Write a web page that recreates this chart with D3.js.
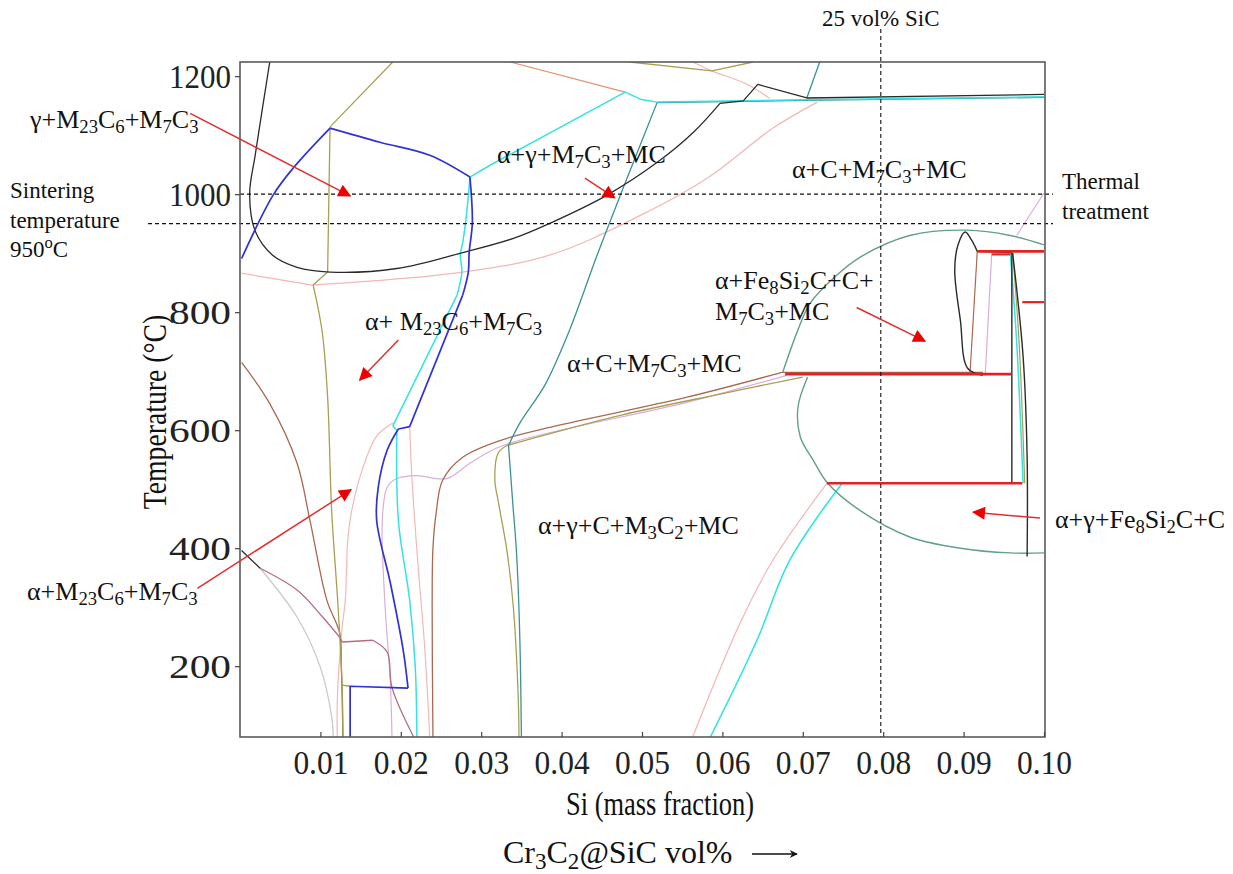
<!DOCTYPE html>
<html>
<head>
<meta charset="utf-8">
<script src="https://cdn.jsdelivr.net/npm/d3@7"></script>
<style>
  html, body { margin: 0; padding: 0; background: #fff; }
  svg { display: block; }
</style>
</head>
<body>
<svg id="chart" width="1233" height="874"></svg>
<script>
// ---------- axis ticks ----------
const xTicks = [0.01, 0.02, 0.03, 0.04, 0.05, 0.06, 0.07, 0.08, 0.09, 0.10];
const yTicks = [200, 400, 600, 800, 1000, 1200];

// ---------- phase boundaries, [Si mass fraction, T in °C] ----------
const blackLoop = [[.0037,1224],[.0019,1067],[.0012,1000],[.0019,937],[.0041,896],[.0071,876],[.0112,868],[.0195,874],[.0277,901],[.0340,925],[.0386,951],[.0456,998],[.0519,1054],[.0564,1105],[.0597,1154]];
const blackCap = [[.0597,1154],[.0626,1158],[.0644,1186],[.0705,1163],[.1,1169]];
const blueLine = [[.0002,891],[.0041,998],[.0066,1044],[.0112,1112],[.0174,1088],[.0236,1066],[.0286,1029],[.0289,952],[.0285,901],[.0284,868],[.0277,829],[.0211,606],[.0197,602],[.0183,566],[.0172,504],[.0170,447],[.0187,341],[.0203,227],[.0209,163]];
const blueFoot = [[.0209,163],[.0137,166],[.0137,80]];
const cyanLeft = [[.0286,1029],[.0282,969],[.0277,918],[.0274,897],[.0276,868],[.0270,829],[.0190,607],[.0195,600],[.0197,447],[.0211,312],[.0218,198],[.0220,80]];
const cyanTop = [[.0286,1029],[.0311,1049],[.0479,1173],[.0498,1161],[.0519,1156],[.0700,1160],[.1,1165]];
const cyanRight = [[.0958,900],[.0966,750],[.0974,510]];
const cyanLow = [[.0585,80],[.0643,244],[.0684,380],[.0749,510]];
const tealLine = [[.0519,1156],[.0473,998],[.0444,896],[.0410,770],[.0379,676],[.0348,612],[.0334,574],[.0339,481],[.0344,391],[.0348,250],[.0350,80]];
const tealTop = [[.0519,1155],[.0700,1159],[.1,1164]];
const tealUpper = [[.0721,1224],[.0705,1163]];
const oliveLeft = [[.0190,1224],[.0112,1114],[.0109,868],[.0091,846],[.0102,769],[.0109,656],[.0114,464],[.0122,300],[.0127,168],[.0128,80]];
const oliveFoot = [[.0127,168],[.0137,166]];
const oliveMid = [[.0700,690],[.0600,662],[.0473,625],[.0332,574],[.0321,561],[.0317,515],[.0321,481],[.0332,396],[.0340,300],[.0346,150],[.0347,80]];
const oliveTop = [[.0485,1224],[.0587,1209],[.0638,1224]];
const oliveRight = [[.0961,900],[.0969,750],[.0976,510]];
const brownLeft = [[.0002,715],[.0037,645],[.0071,544],[.0087,447],[.0108,312],[.0124,256],[.0126,200],[.0128,80]];
const brownMid = [[.0240,80],[.0239,300],[.0240,401],[.0244,460],[.0252,515],[.0277,554],[.0327,584],[.0389,606],[.0556,656],[.0674,698],[.0924,698]];
const brownTear = [[.0917,903],[.0908,697]];
const lavenderMid = [[.0189,80],[.0187,172],[.0180,312],[.0177,447],[.0183,503],[.0195,518],[.0220,523],[.0257,518],[.0286,544],[.0327,574],[.0556,647],[.0680,693]];
const lavenderTear = [[.0935,900],[.0927,696]];
const pinkLeftA = [[.0190,612],[.0170,590],[.0153,537],[.0139,464],[.0134,413],[.0131,312],[.0127,266],[.0121,142],[.0121,80]];
const pinkLeftB = [[.0211,606],[.0214,515],[.0221,379],[.0230,227],[.0236,80]];
const pinkBig = [[.0002,866],[.0090,846],[.0277,868],[.0386,897],[.0498,964],[.0581,1027],[.0663,1112],[.0718,1156]];
const pinkTop = [[.0563,1224],[.0587,1209],[.0631,1186],[.0659,1162]];
const pinkLow = [[.0563,80],[.0622,273],[.0663,380],[.0730,510]];
const pinkCorner = [[.0966,930],[.1,1002]];
const salmonTop = [[.0336,1224],[.0479,1173]];
const grayLine = [[.0025,366],[.0071,283],[.0100,198],[.0114,114],[.0116,80]];
const blackShort = [[.0002,396],[.0025,366]];
const rosyLine = [[.0025,366],[.0071,329],[.0103,283],[.0124,249]];
const rosyStep = [[.0124,249],[.0127,241],[.0165,244],[.0183,224],[.0189,164],[.0216,80]];
const greenUpper = [[.0675,698],[.0694,770],[.0709,815],[.0740,860],[.0771,893],[.0833,930],[.0904,939],[.0958,930],[.1,914]];
const greenLower = [[.0706,690],[.0694,639],[.0697,588],[.0713,549],[.0731,510],[.0771,464],[.0833,419],[.0896,400],[.0958,392],[.1,392]];
const redA = [[.0678,695],[.0960,695]];
const redB = [[.0730,510],[.0973,510]];
const redC = [[.0917,903],[.1,903]];
const redD = [[.0935,898],[.0958,898]];
const redE = [[.0973,817],[.1,817]];
const blackBar = [[.0960,901],[.0960,510]];
const blackRight = [[.0961,900],[.0974,725],[.0979,556],[.0979,386]];
const blackTear = [[.0924,693],[.0905,705],[.0896,786],[.0889,871],[.0893,914],[.0902,936],[.0910,922],[.0917,903],[.0960,901]];

// reference lines
const sinterT = 950, thermalT = 1000, sicSi = 0.0797;

// ---------- styling of each boundary (k = indices of sharp corners) ----------
const C = {
  black: "#2b2b2b", blue: "#3131d6", cyan: "#33e3e3", teal: "#3b9292", olive: "#a89f52",
  brown: "#a9694f", lavender: "#d9aedb", pink: "#f2b8b8", salmon: "#e6926f", gray: "#cacaca",
  rosy: "#b46d7c", green: "#63a088", red: "#e52222"
};
const curves = [
  {d: pinkBig, c: C.pink, w: 1.3, s: 1, k: [1]},
  {d: pinkTop, c: C.pink, w: 1.2, s: 1},
  {d: pinkLow, c: C.pink, w: 1.2, s: 1},
  {d: pinkCorner, c: C.lavender, w: 1.2, s: 0},
  {d: pinkLeftA, c: C.pink, w: 1.2, s: 1},
  {d: pinkLeftB, c: C.pink, w: 1.2, s: 1},
  {d: lavenderMid, c: C.lavender, w: 1.2, s: 1},
  {d: lavenderTear, c: C.lavender, w: 1.2, s: 0},
  {d: salmonTop, c: C.salmon, w: 1.2, s: 0},
  {d: grayLine, c: C.gray, w: 1.3, s: 1},
  {d: rosyLine, c: C.rosy, w: 1.3, s: 1},
  {d: rosyStep, c: C.rosy, w: 1.3, s: 1, k: [1, 2]},
  {d: brownLeft, c: C.brown, w: 1.3, s: 1},
  {d: brownMid, c: C.brown, w: 1.3, s: 1, k: [9]},
  {d: brownTear, c: C.brown, w: 1.2, s: 0},
  {d: oliveLeft, c: C.olive, w: 1.3, s: 1, k: [1, 2, 3]},
  {d: oliveFoot, c: C.olive, w: 1.3, s: 0},
  {d: oliveMid, c: C.olive, w: 1.3, s: 1, k: [3]},
  {d: oliveTop, c: C.olive, w: 1.3, s: 0},
  {d: oliveRight, c: C.olive, w: 1.2, s: 1},
  {d: tealTop, c: C.teal, w: 1.3, s: 0},
  {d: tealLine, c: C.teal, w: 1.3, s: 1, k: [6]},
  {d: tealUpper, c: C.teal, w: 1.3, s: 0},
  {d: cyanTop, c: C.cyan, w: 1.5, s: 0},
  {d: cyanLeft, c: C.cyan, w: 1.5, s: 1, k: [5, 6, 7]},
  {d: cyanRight, c: C.cyan, w: 1.5, s: 1},
  {d: cyanLow, c: C.cyan, w: 1.6, s: 1},
  {d: greenUpper, c: C.green, w: 1.4, s: 1},
  {d: greenLower, c: C.green, w: 1.4, s: 1},
  {d: blackLoop, c: C.black, w: 1.3, s: 1},
  {d: blackCap, c: C.black, w: 1.3, s: 0},
  {d: blackShort, c: C.black, w: 1.3, s: 0},
  {d: blackBar, c: C.black, w: 1.4, s: 0},
  {d: blackRight, c: C.black, w: 1.4, s: 1},
  {d: blackTear, c: C.black, w: 1.4, s: 1, k: [7]},
  {d: blueLine, c: C.blue, w: 1.7, s: 1, k: [3, 6, 10, 11, 12]},
  {d: blueFoot, c: C.blue, w: 1.7, s: 0},
  {d: redA, c: C.red, w: 2.6, s: 0},
  {d: redB, c: C.red, w: 2.6, s: 0},
  {d: redC, c: C.red, w: 2.6, s: 0},
  {d: redD, c: C.red, w: 2.2, s: 0},
  {d: redE, c: C.red, w: 2.2, s: 0}
];

// ---------- region labels and their pointers ----------
const phaseLabels = [
  {t: "γ+M_{23}C_{6}+M_{7}C_{3}", x: 30, y: 128},
  {t: "α+γ+M_{7}C_{3}+MC", x: 497, y: 163},
  {t: "α+C+M_{7}C_{3}+MC", x: 792, y: 178},
  {t: "α+ M_{23}C_{6}+M_{7}C_{3}", x: 365, y: 330},
  {t: "α+Fe_{8}Si_{2}C+C+", x: 715, y: 289},
  {t: "M_{7}C_{3}+MC", x: 715, y: 320},
  {t: "α+C+M_{7}C_{3}+MC", x: 567, y: 372},
  {t: "α+γ+C+M_{3}C_{2}+MC", x: 538, y: 534},
  {t: "α+γ+Fe_{8}Si_{2}C+C", x: 1055, y: 528},
  {t: "α+M_{23}C_{6}+M_{7}C_{3}", x: 27, y: 600}
];
// pointers: [from Si, from T, to Si, to T]
const pointers = [
  [-0.0062, 1137, 0.0137, 997],
  [0.0429, 1027, 0.0466, 994],
  [0.0197, 753, 0.0149, 685],
  [-0.0053, 332, 0.0138, 499],
  [0.0767, 808, 0.0852, 751],
  [0.0995, 451, 0.0912, 461]
];

// ---------- drawing ----------
const svg = d3.select("#chart");
const x = d3.scaleLinear().domain([0, 0.1]).range([240, 1044]);
const y = d3.scaleLinear().domain([80, 1224]).range([737, 62]);
const serif = "'Liberation Serif', 'Times New Roman', serif";

const defs = svg.append("defs");
defs.append("clipPath").attr("id", "plotClip")
  .append("rect").attr("x", 240).attr("y", 62).attr("width", 805).attr("height", 675);
defs.append("marker").attr("id", "redHead").attr("viewBox", "0 0 10 10")
  .attr("refX", 9).attr("refY", 5).attr("markerWidth", 15).attr("markerHeight", 13)
  .attr("markerUnits", "userSpaceOnUse").attr("orient", "auto")
  .append("path").attr("d", "M0,0L10,5L0,10Z").attr("fill", "#ee0000");
defs.append("marker").attr("id", "blackHead").attr("viewBox", "0 0 10 10")
  .attr("refX", 9).attr("refY", 5).attr("markerWidth", 10).attr("markerHeight", 8)
  .attr("markerUnits", "userSpaceOnUse").attr("orient", "auto")
  .append("path").attr("d", "M0,0L10,5L0,10L3,5Z").attr("fill", "#111");

const smooth = d3.line().x(d => x(d[0])).y(d => y(d[1])).curve(d3.curveCatmullRom.alpha(0.5));
const straight = d3.line().x(d => x(d[0])).y(d => y(d[1]));

// split a boundary at its corner points and join the smooth pieces
function boundaryPath(c) {
  const gen = c.s ? smooth : straight;
  const cuts = [0, ...(c.k || []), c.d.length - 1];
  let out = "";
  for (let i = 0; i < cuts.length - 1; i++) {
    out += gen(c.d.slice(cuts[i], cuts[i + 1] + 1));
  }
  return out;
}

const plot = svg.append("g").attr("clip-path", "url(#plotClip)");
plot.selectAll("path.boundary").data(curves).join("path")
  .attr("class", "boundary")
  .attr("d", boundaryPath)
  .attr("fill", "none")
  .attr("stroke", c => c.c)
  .attr("stroke-width", c => c.w)
  .attr("stroke-linejoin", "round");

// dashed reference lines
const dash = svg.append("g").attr("stroke", "#111").attr("stroke-width", 1.1)
  .attr("stroke-dasharray", "4,3").attr("fill", "none");
dash.append("line").attr("x1", x(0)).attr("x2", 1053).attr("y1", y(thermalT)).attr("y2", y(thermalT));
dash.append("line").attr("x1", 148).attr("x2", 1053).attr("y1", y(sinterT)).attr("y2", y(sinterT));
dash.append("line").attr("x1", x(sicSi)).attr("x2", x(sicSi)).attr("y1", 29).attr("y2", 737);

// frame
svg.append("rect").attr("x", 240).attr("y", 62).attr("width", 805).attr("height", 675)
  .attr("fill", "none").attr("stroke", "#5a5a5a").attr("stroke-width", 1.6);

// axes
const yAxis = svg.append("g").attr("transform", "translate(240,0)")
  .call(d3.axisLeft(y).tickValues(yTicks).tickSize(5).tickPadding(4).tickFormat(d3.format("d")));
const xAxis = svg.append("g").attr("transform", "translate(0,737)")
  .call(d3.axisBottom(x).tickValues(xTicks).tickSize(-5).tickPadding(14).tickFormat(d3.format(".2f")));
[yAxis, xAxis].forEach(a => {
  a.select(".domain").remove();
  a.selectAll(".tick line").attr("stroke", "#444").attr("stroke-width", 1.2);
  a.selectAll("text").attr("font-family", serif).attr("font-size", 33).attr("fill", "#222");
});
xAxis.selectAll(".tick text").attr("textLength", 55).attr("lengthAdjust", "spacingAndGlyphs");
yAxis.selectAll(".tick text").attr("dy", "0.34em").attr("textLength", 62).attr("lengthAdjust", "spacingAndGlyphs");

// rich text with sub/superscripts written as _{..} and ^{..}
function rich(sel, str, size) {
  const parts = str.split(/(_\{[^}]*\}|\^\{[^}]*\})/).filter(s => s.length);
  let shift = 0;
  parts.forEach(p => {
    let t = p, target = 0, fs = size;
    if (p.startsWith("_{")) { t = p.slice(2, -1); target = size * 0.2; fs = size * 0.72; }
    else if (p.startsWith("^{")) { t = p.slice(2, -1); target = -size * 0.38; fs = size * 0.72; }
    sel.append("tspan").attr("dy", target - shift).attr("font-size", fs).text(t);
    shift = target;
  });
}

const ann = svg.append("g").attr("font-family", serif).attr("fill", "#111");
phaseLabels.forEach(l => {
  const t = ann.append("text").attr("x", l.x).attr("y", l.y).attr("font-size", 26);
  rich(t, l.t, 26);
});

// side notes
ann.append("text").attr("x", 10).attr("y", 198).attr("font-size", 23).text("Sintering");
ann.append("text").attr("x", 10).attr("y", 228).attr("font-size", 23).text("temperature");
rich(ann.append("text").attr("x", 10).attr("y", 257).attr("font-size", 23), "950^{o}C", 23);
ann.append("text").attr("x", 1062).attr("y", 189).attr("font-size", 23).text("Thermal");
ann.append("text").attr("x", 1062).attr("y", 219).attr("font-size", 23).text("treatment");
ann.append("text").attr("x", x(sicSi)).attr("y", 26).attr("font-size", 23)
  .attr("text-anchor", "middle").text("25 vol% SiC");

// axis titles
ann.append("text").attr("transform", "translate(166,412) rotate(-90) scale(0.84,1)")
  .attr("text-anchor", "middle").attr("font-size", 33).text("Temperature (°C)");
ann.append("text").attr("x", 660).attr("y", 815).attr("font-size", 34)
  .attr("text-anchor", "middle").attr("textLength", 188).attr("lengthAdjust", "spacingAndGlyphs")
  .text("Si (mass fraction)");
rich(ann.append("text").attr("transform", "translate(503,863)").attr("font-size", 32),
  "Cr_{3}C_{2}@SiC vol%", 32);
svg.append("line").attr("x1", 752).attr("x2", 797).attr("y1", 854).attr("y2", 854)
  .attr("stroke", "#111").attr("stroke-width", 1.6).attr("marker-end", "url(#blackHead)");

// red pointers
svg.append("g").selectAll("line").data(pointers).join("line")
  .attr("x1", d => x(d[0])).attr("y1", d => y(d[1]))
  .attr("x2", d => x(d[2])).attr("y2", d => y(d[3]))
  .attr("stroke", "#e03030").attr("stroke-width", 1.5)
  .attr("marker-end", "url(#redHead)");
</script>
</body>
</html>
